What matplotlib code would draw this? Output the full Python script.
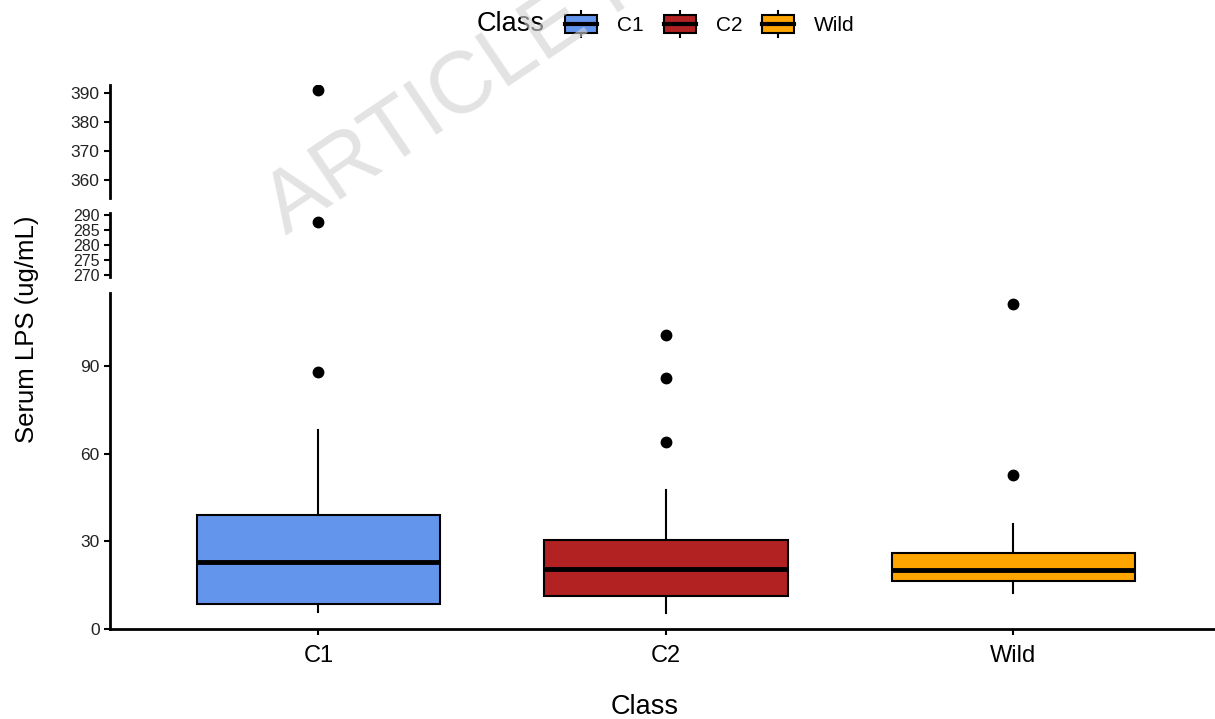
import matplotlib
matplotlib.use("Agg")
import matplotlib.pyplot as plt
from matplotlib.patches import Rectangle
from matplotlib.lines import Line2D
from matplotlib.legend_handler import HandlerBase

plt.rcParams['font.family'] = ['Liberation Sans', 'DejaVu Sans']

# ---- data ----
classes = ["C1", "C2", "Wild"]
colors = ["#6495ED", "#B22222", "#FFA500"]
whisker_low = [5.9, 5.4, 12.5]
q1 = [8.8, 11.4, 16.5]
median = [23.0, 20.5, 20.2]
q3 = [39.0, 30.4, 26.1]
whisker_high = [68.0, 47.5, 36.1]
outliers = [[87.9, 287.7, 390.9], [64.0, 85.7, 100.7], [52.6, 111.0]]

bottom_ticks = [0, 30, 60, 90]
middle_ticks = [270, 275, 280, 285, 290]
top_ticks = [360, 370, 380, 390]

W, H = 1215, 719
fig = plt.figure(figsize=(W / 100, H / 100), dpi=100)

left = 110 / W
def box(top_px, bot_px):
    return [left, 1 - bot_px / H, 1 - left, (bot_px - top_px) / H]

ax_top = fig.add_axes(box(85, 198.3))
ax_mid = fig.add_axes(box(212.7, 277))
ax_bot = fig.add_axes(box(292.7, 629.3))

stats = []
for i, c in enumerate(classes):
    stats.append(dict(label=c, whislo=whisker_low[i], q1=q1[i], med=median[i],
                      q3=q3[i], whishi=whisker_high[i], fliers=outliers[i]))

for ax in (ax_top, ax_mid, ax_bot):
    bp = ax.bxp(stats, positions=range(len(classes)), widths=0.7,
                patch_artist=True, showcaps=False,
                boxprops=dict(edgecolor="black", linewidth=1.5),
                medianprops=dict(color="black", linewidth=3.5),
                whiskerprops=dict(color="black", linewidth=1.5),
                flierprops=dict(marker="o", markerfacecolor="black",
                                markeredgecolor="black", markersize=7.5))
    for patch, col in zip(bp["boxes"], colors):
        patch.set_facecolor(col)
    ax.set_xlim(-0.6, 2.58)
    for s in ("top", "right"):
        ax.spines[s].set_visible(False)
    ax.spines["left"].set_linewidth(2)
    ax.spines["bottom"].set_linewidth(2)
    ax.tick_params(axis="y", length=4.5, width=1.5, labelsize=12.5, pad=3,
                   labelcolor="#222222")
    ax.set_facecolor("none")

ax_bot.set_ylim(0, 115)
ax_bot.set_yticks(bottom_ticks)
ax_bot.set_xticks(range(len(classes)))
ax_bot.set_xticklabels(classes)
ax_bot.tick_params(axis="x", length=4.5, width=1.5, labelsize=17, pad=7)

ax_mid.set_ylim(269.2, 290.9)
ax_mid.set_yticks(middle_ticks)
ax_mid.tick_params(axis="y", labelsize=11.5, pad=3)

ax_top.set_ylim(353.7, 392.6)
ax_top.set_yticks(top_ticks)

for ax in (ax_top, ax_mid):
    ax.spines["bottom"].set_visible(False)
    ax.set_xticks([])

fig.text(27 / W, 1 - 329 / H, "Serum LPS (ug/mL)", rotation=90,
         ha="center", va="center", fontsize=18.5)
fig.text(645 / W, 1 - 707 / H, "Class", ha="center", va="center", fontsize=19.5)


# ---- legend ----
class BoxKeyHandler(HandlerBase):
    def create_artists(self, legend, orig_handle, xdescent, ydescent,
                       width, height, fontsize, trans):
        x0, y0 = -xdescent, -ydescent
        bh = height * 0.64
        by = y0 + (height - bh) / 2
        whisk = Line2D([x0 + width / 2] * 2, [y0, y0 + height], color="black",
                       linewidth=1.5, transform=trans)
        rect = Rectangle((x0, by), width, bh, facecolor=orig_handle.get_facecolor(),
                         edgecolor="black", linewidth=1.5, transform=trans)
        med = Line2D([x0, x0 + width], [by + bh / 2] * 2, color="black",
                     linewidth=3, transform=trans)
        return [whisk, rect, med]

handles = [Rectangle((0, 0), 1, 1, facecolor=c) for c in colors]
leg = fig.legend(handles, classes, handler_map={Rectangle: BoxKeyHandler()},
                 loc="center left", bbox_to_anchor=(565 / W, 1 - 24 / H),
                 ncol=3, frameon=False, fontsize=15, borderpad=0, borderaxespad=0,
                 handlelength=1.55, handleheight=1.6, handletextpad=0.95,
                 columnspacing=0.95)
fig.text(511 / W, 1 - 24 / H, "Class", ha="center", va="center", fontsize=19.5)

# ---- watermark (clipped at the top edge, as in the reference) ----
fig.text(286 / W, 1 - 236 / H, "ARTICLE IN PRESS", rotation=34,
         rotation_mode="anchor", ha="left", va="baseline", fontsize=63,
         color="#d2d2d2", alpha=0.62, zorder=10)

fig.savefig("out.png", dpi=100)
